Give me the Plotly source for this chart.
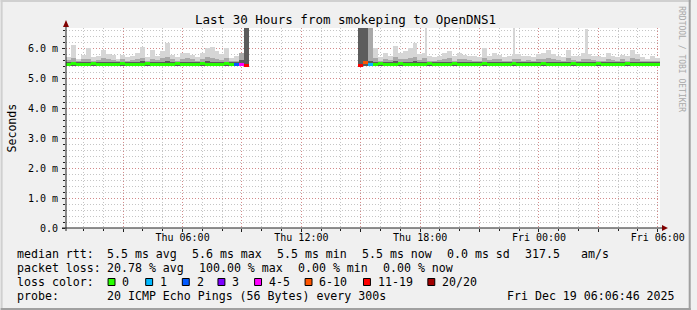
import plotly.graph_objects as go
import pandas as pd

# ---------------- data ----------------
title = "Last 30 Hours from smokeping to OpenDNS1"
t_start = "2025-12-18 00:06:46"
t_end = "2025-12-19 06:06:46"
bin_minutes = 15

# smoke envelope per 15-minute bin (ms); None = no data (100% loss)
smoke_max = [
    5.71, 6.10, 5.65, 5.77, 5.99, 5.70, 5.75, 5.93, 5.80, 5.78,
    5.65, 5.78, 5.70, 5.72, 5.85, 6.04, 5.70, 5.95, 5.72, 5.90,
    6.16, 5.78, 5.70, 5.85, 5.83, 5.78, 5.70, 5.85, 6.00, 6.02,
    5.90, 5.80, 6.00, 5.68, 5.72, 5.83, 7.00, None, None, None,
    None, None, None, None, None, None, None, None, None, None,
    None, None, None, None, None, None, None, None, None, 7.00,
    7.00, 7.00, 6.00, 5.70, 5.85, 5.75, 6.07, 5.83, 5.90, 6.00,
    6.17, 5.80, 5.85, 5.75, 5.70, 5.75, 5.85, 5.90, 5.75, 5.83,
    5.78, 5.75, 5.72, 5.70, 6.00, 5.75, 5.83, 5.78, 5.70, 5.72,
    5.80, 5.80, 5.72, 5.75, 5.70, 5.80, 5.85, 5.95, 5.80, 5.75,
    5.70, 5.95, 5.75, 5.72, 5.85, 5.80, 5.75, 5.72, 5.70, 5.85,
    5.75, 5.70, 5.78, 5.72, 5.93, 5.80, 5.70, 5.65, 5.72, 5.68,
]
smoke_q3 = [
    5.60, 5.66, 5.58, 5.62, 5.64, 5.58, 5.60, 5.66, 5.62, 5.60,
    5.56, 5.62, 5.58, 5.60, 5.64, 5.68, 5.58, 5.64, 5.60, 5.66,
    5.70, 5.62, 5.58, 5.64, 5.66, 5.62, 5.58, 5.64, 5.70, 5.68,
    5.64, 5.60, 5.66, 5.56, 5.58, 5.83, 7.00, None, None, None,
    None, None, None, None, None, None, None, None, None, None,
    None, None, None, None, None, None, None, None, None, 7.00,
    7.00, 7.00, 5.68, 5.58, 5.64, 5.60, 5.70, 5.62, 5.64, 5.66,
    5.70, 5.60, 5.66, 5.58, 5.56, 5.60, 5.64, 5.66, 5.58, 5.62,
    5.62, 5.60, 5.58, 5.56, 5.66, 5.60, 5.64, 5.62, 5.58, 5.58,
    5.64, 5.62, 5.58, 5.60, 5.56, 5.62, 5.64, 5.66, 5.62, 5.60,
    5.58, 5.66, 5.60, 5.58, 5.64, 5.64, 5.60, 5.58, 5.56, 5.64,
    5.60, 5.56, 5.62, 5.58, 5.66, 5.62, 5.58, 5.56, 5.58, 5.56,
]
smoke_dark = [
    5.53, 5.55, 5.52, 5.54, 5.53, 5.52, 5.54, 5.55, 5.53, 5.52,
    5.52, 5.54, 5.53, 5.52, 5.55, 5.56, 5.52, 5.54, 5.53, 5.55,
    5.56, 5.53, 5.52, 5.54, 5.55, 5.53, 5.52, 5.54, 5.56, 5.55,
    5.54, 5.53, 5.55, 5.52, 5.53, 5.60, 7.00, None, None, None,
    None, None, None, None, None, None, None, None, None, None,
    None, None, None, None, None, None, None, None, None, 7.00,
    7.00, 5.56, 5.55, 5.52, 5.54, 5.53, 5.56, 5.53, 5.54, 5.55,
    5.56, 5.53, 5.54, 5.52, 5.52, 5.53, 5.54, 5.55, 5.52, 5.54,
    5.53, 5.53, 5.52, 5.52, 5.55, 5.53, 5.54, 5.53, 5.52, 5.52,
    5.54, 5.53, 5.52, 5.53, 5.52, 5.53, 5.54, 5.55, 5.53, 5.53,
    5.52, 5.55, 5.53, 5.52, 5.54, 5.54, 5.53, 5.52, 5.52, 5.54,
    5.53, 5.52, 5.53, 5.52, 5.55, 5.53, 5.52, 5.52, 5.52, 5.52,
]
smoke_min = [
    5.40, 5.41, 5.40, 5.40, 5.41, 5.40, 5.40, 5.41, 5.40, 5.40,
    5.40, 5.41, 5.40, 5.40, 5.41, 5.40, 5.40, 5.41, 5.40, 5.40,
    5.41, 5.40, 5.40, 5.41, 5.40, 5.40, 5.40, 5.41, 5.40, 5.40,
    5.41, 5.40, 5.40, 5.40, 5.41, 5.40, 5.40, None, None, None,
    None, None, None, None, None, None, None, None, None, None,
    None, None, None, None, None, None, None, None, None, 5.40,
    5.40, 5.41, 5.40, 5.40, 5.41, 5.40, 5.40, 5.41, 5.40, 5.40,
    5.41, 5.40, 5.40, 5.40, 5.41, 5.40, 5.40, 5.41, 5.40, 5.40,
    5.40, 5.41, 5.40, 5.40, 5.41, 5.40, 5.40, 5.41, 5.40, 5.40,
    5.41, 5.40, 5.40, 5.40, 5.41, 5.40, 5.40, 5.41, 5.40, 5.40,
    5.40, 5.41, 5.40, 5.40, 5.41, 5.40, 5.40, 5.41, 5.40, 5.40,
    5.41, 5.40, 5.40, 5.40, 5.41, 5.40, 5.40, 5.41, 5.40, 5.40,
]
median = [
    5.46, 5.47, 5.46, 5.45, 5.46, 5.47, 5.46, 5.46, 5.45, 5.46,
    5.46, 5.47, 5.46, 5.46, 5.45, 5.46, 5.47, 5.46, 5.46, 5.45,
    5.46, 5.46, 5.47, 5.46, 5.45, 5.46, 5.46, 5.47, 5.46, 5.46,
    5.45, 5.46, 5.47, 5.46, 5.46, 5.46, 5.43, None, None, None,
    None, None, None, None, None, None, None, None, None, None,
    None, None, None, None, None, None, None, None, None, 5.43,
    5.53, 5.46, 5.46, 5.47, 5.46, 5.45, 5.46, 5.47, 5.46, 5.46,
    5.45, 5.46, 5.46, 5.47, 5.46, 5.46, 5.45, 5.46, 5.47, 5.46,
    5.46, 5.45, 5.46, 5.46, 5.47, 5.46, 5.46, 5.45, 5.46, 5.46,
    5.47, 5.46, 5.46, 5.45, 5.46, 5.46, 5.47, 5.46, 5.46, 5.45,
    5.46, 5.46, 5.47, 5.46, 5.45, 5.46, 5.46, 5.47, 5.46, 5.46,
    5.45, 5.46, 5.46, 5.47, 5.46, 5.46, 5.45, 5.46, 5.46, 5.46,
]
loss = [
    0, 0, 0, 0, 0, 0, 0, 0, 0, 0,
    0, 0, 0, 0, 0, 0, 0, 0, 0, 0,
    0, 0, 0, 0, 0, 0, 0, 0, 0, 0,
    0, 0, 0, 0, 2, 5, 15, 20, 20, 20,
    20, 20, 20, 20, 20, 20, 20, 20, 20, 20,
    20, 20, 20, 20, 20, 20, 20, 20, 20, 15,
    8, 1, 0, 0, 0, 0, 0, 0, 0, 0,
    0, 0, 0, 0, 0, 0, 0, 0, 0, 0,
    0, 0, 0, 0, 0, 0, 0, 0, 0, 0,
    0, 0, 0, 0, 0, 0, 0, 0, 0, 0,
    0, 0, 0, 0, 0, 0, 0, 0, 0, 0,
    0, 0, 0, 0, 0, 0, 0, 0, 0, 0,
]
# isolated single-sample rtt spikes (ms)
spike_times = ["2025-12-18 18:19", "2025-12-18 22:46", "2025-12-19 02:25"]
spike_tops = [6.66, 6.66, 6.62]

y_tick_vals = [0, 1, 2, 3, 4, 5, 6]
y_tick_text = ["0.0", "1.0 m", "2.0 m", "3.0 m", "4.0 m", "5.0 m", "6.0 m"]

rtt_label = "median rtt:"
rtt_stats = ["5.5 ms avg", "5.6 ms max", "5.5 ms min", "5.5 ms now", "0.0 ms sd", "317.5", "am/s"]
loss_label = "packet loss:"
loss_stats = ["20.78 % avg", "100.00 % max", "0.00 % min", "0.00 % now"]
color_label = "loss color:"
loss_classes = ["0", "1", "2", "3", "4-5", "6-10", "11-19", "20/20"]
loss_class_max = [0, 1, 2, 3, 5, 10, 19, 20]
probe_label = "probe:"
probe_text = "20 ICMP Echo Pings (56 Bytes) every 300s"
stamp_text = "Fri Dec 19 06:06:46 2025"
watermark = "RRDTOOL / TOBI OETIKER"
y_title = "Seconds"

# ---------------- style ----------------
loss_colors = ["#26ff00", "#00b8ff", "#0059ff", "#7e00ff", "#ff00ff", "#ff5500", "#ff0000", "#a10000"]
MONO = "DejaVu Sans Mono"
W, H = 697, 310
L, T = 66, 28
PW, PH = 600, 200
R, B = W - L - PW, H - T - PH
GRID = "rgba(150,150,150,0.55)"
MGRID = "rgba(224,80,80,0.5)"
DASH = "1px,2px"
ARROW = "#800000"
AXIS = "#202020"


def fx(x):
    return (x - L) / PW


def fy(y):
    return (T + PH - y) / PH


def loss_color(n):
    for mx, c in zip(loss_class_max, loss_colors):
        if n <= mx:
            return c
    return loss_colors[-1]


times = pd.date_range(pd.Timestamp(t_start) + pd.Timedelta(minutes=bin_minutes / 2),
                      periods=len(median), freq=f"{bin_minutes}min")
bw = bin_minutes * 60 * 1000


def span(top, base):
    return [None if (a is None or b is None) else a - b for a, b in zip(top, base)]


fig = go.Figure()
fig.add_trace(go.Bar(x=spike_times, y=[s - 5.45 for s in spike_tops], base=5.45, width=5 * 60 * 1000,
                     marker=dict(color="#d6d6d6", line=dict(width=0)), hoverinfo="skip"))
for top, col in [(smoke_max, "#d6d6d6"), (smoke_q3, "#a9a9a9"), (smoke_dark, "#5c5c5c")]:
    fig.add_trace(go.Bar(x=times, y=span(top, smoke_min), base=smoke_min, width=bw,
                         marker=dict(color=col, line=dict(width=0)), hoverinfo="skip"))

med_base = [None if m is None else m - 0.05 for m in median]
med_h = [None if m is None else 0.1 for m in median]
fig.add_trace(go.Bar(x=times, y=med_h, base=med_base, width=bw,
                     marker=dict(color=[loss_color(n) for n in loss], line=dict(width=0)),
                     hoverinfo="skip"))

major_vals = pd.date_range("2025-12-18 03:00", "2025-12-19 06:00", freq="3h")
major_text = [d.strftime("%a %H:%M") if d.hour % 6 == 0 else "" for d in major_vals]

fig.update_layout(
    width=W, height=H, margin=dict(l=L, r=R, t=T, b=B, pad=0),
    paper_bgcolor="#f0f0f0", plot_bgcolor="#ffffff",
    showlegend=False, barmode="overlay", bargap=0,
    xaxis=dict(type="date", range=[t_start, t_end], tickvals=list(major_vals), ticktext=major_text,
               showgrid=True, gridcolor=MGRID, griddash=DASH, gridwidth=1,
               ticks="outside", ticklen=3, tickcolor=AXIS, showline=False, zeroline=False,
               tickfont=dict(family=MONO, size=10, color="#000"), ticklabelstandoff=-3,
               minor=dict(dtick=3600000, tick0="2025-12-18 00:00", showgrid=True, gridcolor=GRID,
                          griddash=DASH, ticks="outside", ticklen=2, tickcolor=AXIS),
               fixedrange=True),
    yaxis=dict(range=[0, PH / 30.0], tickvals=y_tick_vals, ticktext=y_tick_text,
               showgrid=True, gridcolor=MGRID, griddash=DASH, gridwidth=1,
               ticks="outside", ticklen=3, tickcolor=AXIS, showline=False, zeroline=False,
               tickfont=dict(family=MONO, size=10, color="#000"), ticklabelstandoff=2,
               minor=dict(dtick=0.2, showgrid=True, gridcolor=GRID, griddash=DASH,
                          ticks="outside", ticklen=2, tickcolor=AXIS),
               fixedrange=True),
)

shapes = []
# axes lines
shapes.append(dict(type="line", xref="paper", yref="paper", x0=fx(L), x1=fx(L), y0=fy(231), y1=fy(25),
                   line=dict(color=AXIS, width=1)))
shapes.append(dict(type="line", xref="paper", yref="paper", x0=fx(62), x1=fx(669), y0=fy(228), y1=fy(228),
                   line=dict(color=AXIS, width=1)))
# arrows
shapes.append(dict(type="path", xref="paper", yref="paper",
                   path=f"M {fx(L-3)} {fy(27)} L {fx(L+3)} {fy(27)} L {fx(L)} {fy(20)} Z",
                   fillcolor=ARROW, line=dict(color=ARROW, width=0)))
shapes.append(dict(type="path", xref="paper", yref="paper",
                   path=f"M {fx(668)} {fy(225)} L {fx(668)} {fy(231)} L {fx(674)} {fy(228)} Z",
                   fillcolor=ARROW, line=dict(color=ARROW, width=0)))
# 3D border
shapes.append(dict(type="line", xref="paper", yref="paper", x0=fx(0), x1=fx(W), y0=fy(1), y1=fy(1),
                   line=dict(color="#d0d0d0", width=2)))
shapes.append(dict(type="line", xref="paper", yref="paper", x0=fx(1), x1=fx(1), y0=fy(0), y1=fy(H),
                   line=dict(color="#d0d0d0", width=2)))
shapes.append(dict(type="line", xref="paper", yref="paper", x0=fx(0), x1=fx(W), y0=fy(H - 1), y1=fy(H - 1),
                   line=dict(color="#a0a0a0", width=2)))
shapes.append(dict(type="line", xref="paper", yref="paper", x0=fx(W - 1), x1=fx(W - 1), y0=fy(0), y1=fy(H),
                   line=dict(color="#a0a0a0", width=2)))

ann = []


def text(s, x, y, size=11.6, anchor="left", angle=0, color="#000"):
    ann.append(dict(text=s, x=fx(x), y=fy(y), xref="paper", yref="paper", showarrow=False,
                    xanchor=anchor, yanchor="middle", textangle=angle, borderpad=0, borderwidth=0,
                    font=dict(family=MONO, size=size, color=color)))


text(title, W / 2, 19, size=12.5, anchor="center")
text(y_title, 11, 128, angle=-90, anchor="center")
text(watermark, 688, 59, size=8, anchor="center", angle=90, color="#a8a8a8")

lx = 16
row_y = [254, 268, 282, 296]
text(rtt_label, lx, row_y[0])
for s, x in zip(rtt_stats, [107, 193, 279, 365, 451, 530, 586]):
    text(s, x, row_y[0])
text(loss_label, lx, row_y[1])
for s, x in zip(loss_stats, [107, 200, 300, 386]):
    text(s, x, row_y[1])
text(color_label, lx, row_y[2])
for s, c, x in zip(loss_classes, loss_colors, [108, 146, 183, 219, 256, 307, 366, 431]):
    shapes.append(dict(type="rect", xref="paper", yref="paper", x0=fx(x + 0.5), x1=fx(x + 7.5),
                       y0=fy(278.5), y1=fy(285.5), fillcolor=c, line=dict(color="#000", width=1)))
    text(s, x + 15, row_y[2])
text(probe_label, lx, row_y[3])
text(probe_text, 107, row_y[3])
text(stamp_text, 681, row_y[3], anchor="right")

fig.update_layout(shapes=shapes, annotations=ann)
fig.write_html("out.html")
